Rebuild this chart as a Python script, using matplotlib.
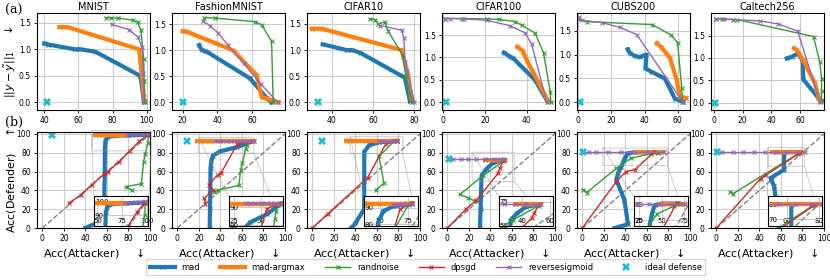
import matplotlib
matplotlib.use("Agg")
import matplotlib.pyplot as plt
from matplotlib.lines import Line2D

titles = ["MNIST", "FashionMNIST", "CIFAR10", "CIFAR100", "CUBS200", "Caltech256"]
names = ["mad", "mad-argmax", "randnoise", "dpsgd", "reversesigmoid"]

# (a) attacker accuracy vs. perturbation norm
mnist_a = {
    "mad": [(40, 1.11), (42.4, 1.09), (58, 1.0), (61, 1.0), (69.9, 0.955), (96.3, 0.5), (97.5, 0.25), (98.4, 0.0)],
    "mad-argmax": [(48.8, 1.42), (51, 1.42), (53.5, 1.42), (95.6, 1.0), (97.6, 0.4), (98.4, 0.1), (98.8, 0.02)],
    "randnoise": [(75.9, 1.6), (79, 1.59), (83.4, 1.59), (91.8, 1.55), (94.7, 1.51), (96.7, 1.36), (98.3, 0.82), (98.6, 0.4), (98.8, 0.0)],
    "reversesigmoid": [(79.5, 1.47), (89.7, 1.37), (94.9, 1.23), (97.4, 1.04), (98.0, 0.55), (98.4, 0.02)],
}
fashion_a = {
    "mad": [(29.5, 1.1), (30.9, 1.01), (32.9, 0.98), (34, 0.97), (58.7, 0.46), (68.3, 0.08), (71, 0.0)],
    "mad-argmax": [(20, 1.37), (22.3, 1.36), (49, 1.0), (62.5, 0.52), (65.4, 0.1), (75, 0.0)],
    "randnoise": [(32.2, 1.63), (38.4, 1.62), (61.5, 1.55), (65.4, 1.49), (71.1, 1.17), (72, 0.0)],
    "reversesigmoid": [(31.5, 1.57), (35.8, 1.47), (40.5, 1.33), (46, 1.1), (55, 0.75), (65, 0.35), (74.6, 0.0)],
}
cifar10_a = {
    "mad": [(35.6, 1.11), (47.3, 1.0), (49.7, 1.0), (53.7, 0.95), (75.5, 0.47), (77.9, 0.02)],
    "mad-argmax": [(30.3, 1.41), (35.2, 1.41), (73.9, 1.0), (77.1, 0.5), (78.8, 0.05)],
    "randnoise": [(58.5, 1.6), (61, 1.58), (62.6, 1.5), (65.8, 1.54), (67.4, 1.36), (74.4, 0.9), (76, 0.5), (79, 0.0)],
    "reversesigmoid": [(63.4, 1.47), (73.9, 1.38), (75, 1.24), (75.5, 0.77), (76.5, 0.6), (80.1, 0.0)],
}
cifar100_a = {
    "mad": [(29.1, 1.11), (32, 1.02), (33.6, 0.98), (44, 0.5), (49.6, 0.05)],
    "mad-argmax": [(35.5, 1.24), (38.1, 1.15), (40.4, 0.9), (45.6, 0.46), (50.4, 0.01)],
    "randnoise": [(0.8, 1.87), (8.9, 1.87), (20.9, 1.86), (26.5, 1.85), (34.5, 1.8), (37.7, 1.72), (44.1, 1.54), (48.1, 1.1), (51.3, 0.24), (51.6, 0.01)],
    "reversesigmoid": [(0.8, 1.87), (3, 1.87), (10, 1.86), (20.9, 1.83), (32, 1.71), (39.2, 1.55), (42.4, 1.3), (49.6, 0.01)],
}
cubs_a = {
    "mad": [(29.8, 1.11), (31.2, 1.03), (34.2, 0.97), (37.2, 0.95), (40.2, 0.99), (41.2, 1.0), (40.6, 0.71), (44.2, 0.64), (52.3, 0.5), (58.3, 0.08), (63.3, 0.01)],
    "mad-argmax": [(47.4, 1.24), (50, 1.16), (55.4, 0.93), (59.4, 0.47), (61.5, 0.12), (65.1, 0.09)],
    "randnoise": [(0, 1.74), (5, 1.69), (44.7, 1.63), (56, 1.41), (60, 1.25), (62.5, 0.3), (62.9, 0.01)],
    "reversesigmoid": [(0.4, 1.78), (2.4, 1.72), (14.1, 1.67), (25.2, 1.57), (35.3, 1.42), (63.3, 0.0)],
}
caltech_a = {
    "mad": [(50.8, 0.99), (54.2, 1.03), (58.9, 1.1), (61.9, 0.93), (62.3, 0.52), (72.7, 0.11), (74.5, 0.03)],
    "mad-argmax": [(55.8, 1.22), (57.7, 1.18), (62.3, 0.95), (70.4, 0.43), (73.8, 0.02)],
    "randnoise": [(1.2, 1.88), (6, 1.87), (13, 1.86), (16.2, 1.86), (69.4, 1.48), (73.8, 0.9), (75, 0.54), (75, 0.27), (75, 0.05)],
    "reversesigmoid": [(1.2, 1.88), (6.9, 1.87), (32.3, 1.83), (45, 1.76), (58.4, 1.6), (73.8, 0.02)],
}
ideal_a = [(41.4, 0), (20, 0), (33.5, 0), (1.5, 0), (1, 0), (1, 0)]

# (b) attacker accuracy vs. defender accuracy
mnist_b = {
    "mad": [(40, 0), (50, 5), (57, 15), (57.5, 33), (58, 60), (58, 80), (58.5, 92), (60, 96), (65, 98), (80, 98.5), (97, 99)],
    "mad-argmax": [(49, 98.5), (55, 98.5), (60, 98.5), (65, 98.5), (70, 98.5), (78, 98.5)],
    "randnoise": [(98.5, 99.5), (98, 90), (95.5, 79), (94, 70), (92, 47), (78, 44), (83, 40)],
    "dpsgd": [(25, 27), (36, 35), (46, 46), (57, 57), (61, 60), (71, 70), (81, 82), (90, 92), (98, 99)],
    "reversesigmoid": [(78, 99), (83, 99), (88, 99.5), (93, 99.5), (98, 100)],
}
fashion_b = {
    "mad": [(30, 0), (30.3, 20), (30.6, 40), (30.8, 64), (31.5, 71), (33, 77), (40, 81.5), (55.6, 86), (69.7, 92)],
    "mad-argmax": [(18, 92), (22, 92), (26, 92), (30, 92), (40, 92), (50, 92), (60, 92), (71, 92)],
    "randnoise": [(65, 88), (63.4, 83.6), (60.3, 68.6), (58.8, 62), (57.2, 45.3), (37.5, 40.2), (34, 38.5)],
    "dpsgd": [(69, 92.5), (55.6, 89), (40.6, 58.5), (37.5, 56.6), (29.1, 46), (33.2, 40.7), (25, 31.4), (26, 26)],
    "reversesigmoid": [(35, 92.5), (40, 92.5), (45, 92.5), (50, 92.5), (55, 92.5), (60, 92.5), (65, 92.5), (71, 92.5)],
}
cifar10_b = {
    "mad": [(36, 0), (40, 5), (48, 20), (48.2, 50), (48.2, 81), (52.8, 88), (61.9, 91), (78.7, 92.5)],
    "mad-argmax": [(31.4, 92.8), (35, 92.8), (40, 92.5), (50, 92.5), (60, 92.5), (70, 92.5), (78.7, 92.8)],
    "randnoise": [(75.7, 92), (61.9, 76), (66.5, 47.5), (58.9, 40.4)],
    "dpsgd": [(0, 0), (14.6, 15.4), (51.4, 53.6), (68.2, 89.3), (78.7, 92.8)],
    "reversesigmoid": [(61.9, 92.5), (66, 92.5), (70, 92.5), (74, 92.5), (78.7, 92.5)],
}
cifar100_b = {
    "mad": [(30.3, 0), (30.8, 20), (31.3, 40), (31.8, 55.8), (36.4, 63), (42.6, 69.4), (51.9, 72)],
    "mad-argmax": [(34.8, 72.5), (38, 72.5), (41, 72.5), (44, 72.5), (47, 72.5), (50, 72.5), (53.4, 72.5)],
    "randnoise": [(51.9, 70.7), (33.3, 55.8), (11.6, 35.6), (19.4, 32), (25.6, 28.5)],
    "dpsgd": [(0, 0), (17.7, 20.6), (27, 29.6), (47.2, 58.3), (48.8, 63.6), (52.5, 72.6)],
    "reversesigmoid": [(2, 73), (5.5, 73), (13, 73), (19, 73), (27, 73), (35, 73), (43, 73), (49, 73), (53, 73)],
}
cubs_b = {
    "mad": [(30, 0), (42.4, 4), (39, 30), (31.6, 51), (33.1, 58), (36.2, 65), (39.3, 74), (42.4, 79.5), (50, 80.5), (70, 80.5)],
    "mad-argmax": [(48.5, 80.5), (53, 80.5), (58, 80.5), (63, 80.5), (68, 80.5), (74.5, 80.5)],
    "randnoise": [(1, 40.5), (4, 37.6), (31.6, 63.5), (45.4, 74.2), (64, 79), (70, 80)],
    "dpsgd": [(0, 0), (31.6, 49.4), (40.6, 60), (48.5, 61.8), (66.9, 81)],
    "reversesigmoid": [(1, 80.5), (6, 80.5), (13, 80.5), (24, 80.5), (36, 80.5), (48, 80.5), (60, 80.5), (76, 80.5)],
}
caltech_b = {
    "mad": [(62.9, 80), (62.9, 62), (50.3, 53), (53.5, 45), (55, 33), (57, 15), (58, 0)],
    "mad-argmax": [(52, 80.5), (56, 80.5), (61, 80.5), (66, 80.5), (71, 80.5), (76, 80.5), (80, 80.5)],
    "randnoise": [(12.6, 38.4), (15.7, 36.6), (76, 79)],
    "dpsgd": [(0, 0), (41, 52.5), (45.7, 56), (78, 80)],
    "reversesigmoid": [(0.5, 80.5), (5, 80.5), (15, 80.5), (25, 80.5), (35, 80.5), (45, 80.5), (55, 80.5), (65, 80.5), (75, 80.5), (82, 80.5)],
}
ideal_b = [(9.1, 99), (9.4, 92.5), (9.2, 92.8), (1.5, 73.6), (0.9, 81), (0.3, 81)]

top_data = [mnist_a, fashion_a, cifar10_a, cifar100_a, cubs_a, caltech_a]
bot_data = [mnist_b, fashion_b, cifar10_b, cifar100_b, cubs_b, caltech_b]

top_xlim = [(35.7, 102), (13.9, 78.8), (28, 82.8), (-0.6, 53.6), (-0.8, 67.5), (-2, 76.7)]
top_ylim = [(-0.145, 1.685), (-0.148, 1.717), (-0.148, 1.71), (-0.172, 1.993), (-0.161, 1.872), (-0.164, 2.007)]
inset_xlim = [(46, 101), (19.5, 71), (35, 84), (23, 62), (19, 79), (48, 82)]
inset_ylim = [(82, 103.5), (79.5, 96), (79, 97), (49.5, 80.5), (66.5, 85), (65.5, 85.5)]
inset_xticks = [[50, 75, 100], [25, 50], [50, 75], [40, 60], [25, 50, 75], [60, 80]]
inset_yticks = [[90, 100], [80, 90], [80, 90], [50, 75], [70, 80], [70, 80]]

colors = {"mad": "#1f77b4", "mad-argmax": "#ff7f0e", "randnoise": "#2ca02c",
          "dpsgd": "#d62728", "reversesigmoid": "#9467bd"}
widths = {"mad": 3, "mad-argmax": 3, "randnoise": 1, "dpsgd": 1, "reversesigmoid": 1}
cyan = "#17becf"


def draw(ax, series, ideal):
    for n in names:
        if n in series:
            xs, ys = zip(*series[n])
            ax.plot(xs, ys, color=colors[n], lw=widths[n], marker="x", ms=3, mew=0.8)
    ax.plot([ideal[0]], [ideal[1]], "X", color=cyan, ms=6, mew=0)


def style(ax):
    ax.grid(True, color="#cccccc", lw=0.8)
    ax.set_axisbelow(True)
    ax.tick_params(labelsize=5.5, length=2.5, width=0.6, pad=2)
    for s in ax.spines.values():
        s.set_linewidth(0.8)


fig = plt.figure(figsize=(8.3, 2.8), dpi=100)
W, H = 830.0, 280.0
lefts = [37, 172, 307, 442, 577, 711]
pw = 113

for i in range(6):
    # top row
    ax = fig.add_axes([lefts[i] / W, (H - 110) / H, pw / W, 97 / H])
    draw(ax, top_data[i], ideal_a[i])
    ax.set_xlim(*top_xlim[i])
    ax.set_ylim(*top_ylim[i])
    ax.set_yticks([0, 0.5, 1.0, 1.5])
    ax.set_title(titles[i], fontsize=7, pad=2)
    style(ax)
    if i == 0:
        ax.set_ylabel(r"$||y-\tilde{y}||_1$ $\quad\downarrow$", fontsize=8)
        ax.yaxis.set_label_coords(-0.17, 0.5)

    # bottom row
    bx = fig.add_axes([lefts[i] / W, (H - 228) / H, pw / W, 96 / H])
    bx.plot([0, 100], [0, 100], "--", color="gray", lw=1)
    draw(bx, bot_data[i], ideal_b[i])
    bx.set_xlim(-5, 100)
    bx.set_ylim(0, 102)
    bx.set_xticks(range(0, 101, 20))
    bx.set_yticks(range(0, 101, 20))
    style(bx)
    bx.set_xlabel(r"Acc(Attacker) $\quad\downarrow$", fontsize=8, labelpad=2)
    if i == 0:
        bx.set_ylabel(r"Acc(Defender) $\quad\uparrow$", fontsize=8)
        bx.yaxis.set_label_coords(-0.17, 0.5)

    ins = bx.inset_axes([0.5, 0.02, 0.48, 0.31])
    ins.plot([0, 100], [0, 100], "--", color="gray", lw=1)
    draw(ins, bot_data[i], ideal_b[i])
    ins.set_xlim(*inset_xlim[i])
    ins.set_ylim(*inset_ylim[i])
    ins.set_xticks(inset_xticks[i])
    ins.set_yticks(inset_yticks[i])
    ins.grid(True, color="#cccccc", lw=0.8)
    ins.set_axisbelow(True)
    ins.tick_params(labelsize=5, length=0, direction="in")
    ins.tick_params(axis="x", pad=-5.5)
    ins.tick_params(axis="y", pad=-1)
    for lab in ins.get_yticklabels():
        lab.set_horizontalalignment("left")
    bx.indicate_inset_zoom(ins, edgecolor="0.6", lw=0.7)

fig.text(5 / W, 1 - 10 / H, "(a)", fontsize=9, family="DejaVu Serif", va="center")
fig.text(5 / W, 1 - 122 / H, "(b)", fontsize=9, family="DejaVu Serif", va="center")

handles = [Line2D([], [], color=colors[n], lw=widths[n], marker="x", ms=3, mew=0.8) for n in names]
handles.append(Line2D([], [], color=cyan, marker="X", ls="none", ms=6, mew=0))
fig.legend(handles, names + ["ideal defense"], loc="center", bbox_to_anchor=(0.513, 0.046),
           ncol=6, fontsize=6, handlelength=3, columnspacing=2.4, handletextpad=0.8,
           frameon=True, fancybox=False, edgecolor="#cccccc", borderpad=0.4)

fig.savefig("out.png", dpi=100)
